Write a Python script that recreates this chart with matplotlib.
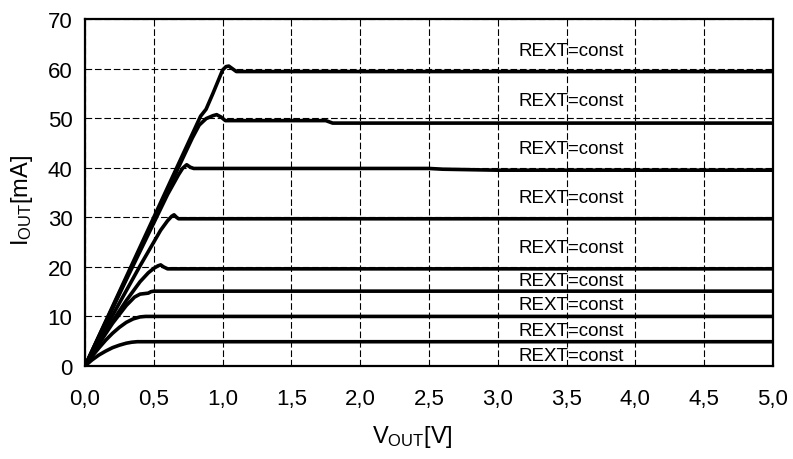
import matplotlib
matplotlib.use('Agg')
import matplotlib.pyplot as plt

# Output characteristic curves
v_05 = [0, 0.05, 0.10, 0.15, 0.20, 0.25, 0.30, 0.34, 0.38, 5.0]
i_05 = [0, 1.2, 2.2, 3.0, 3.7, 4.2, 4.6, 4.8, 4.9, 4.9]

v_10 = [0, 0.05, 0.10, 0.15, 0.20, 0.25, 0.30, 0.35, 0.40, 0.44, 5.0]
i_10 = [0, 1.9, 3.6, 5.2, 6.6, 7.8, 8.8, 9.5, 9.9, 10.0, 10.0]

v_15 = [0, 0.10, 0.20, 0.30, 0.36, 0.40, 0.46, 0.48, 0.50, 5.0]
i_15 = [0, 4.4, 8.6, 12.2, 13.9, 14.5, 14.7, 15.0, 15.1, 15.1]

v_20 = [0, 0.10, 0.20, 0.30, 0.40, 0.46, 0.50, 0.53, 0.55, 0.57, 0.60, 5.0]
i_20 = [0, 4.6, 9.0, 13.2, 17.0, 18.8, 19.7, 20.2, 20.4, 20.0, 19.6, 19.6]

v_30 = [0, 0.20, 0.40, 0.55, 0.60, 0.63, 0.647, 0.665, 0.68, 5.0]
i_30 = [0, 10.2, 20.2, 27.4, 29.3, 30.2, 30.5, 30.0, 29.7, 29.7]

v_40 = [0, 0.30, 0.60, 0.68, 0.71, 0.739, 0.765, 0.79, 2.50, 2.60, 3.00, 5.0]
i_40 = [0, 17.4, 34.6, 38.6, 39.9, 40.6, 40.1, 39.85, 39.85, 39.7, 39.5, 39.5]

v_50 = [0, 0.40, 0.78, 0.83, 0.88, 0.93, 0.957, 0.99, 1.02, 1.75, 1.80, 5.0]
i_50 = [0, 23.6, 46.0, 48.6, 49.9, 50.5, 50.7, 50.2, 49.5, 49.5, 49.0, 49.0]

v_60 = [0, 0.40, 0.84, 0.88, 0.93, 1.00, 1.025, 1.045, 1.07, 1.10, 5.0]
i_60 = [0, 24.0, 50.4, 51.8, 55.0, 59.7, 60.4, 60.5, 60.0, 59.4, 59.4]

curves = [(v_05, i_05), (v_10, i_10), (v_15, i_15), (v_20, i_20),
          (v_30, i_30), (v_40, i_40), (v_50, i_50), (v_60, i_60)]

label_text = 'REXT=const'
label_y = [63.6, 53.5, 43.8, 34.0, 23.9, 17.2, 12.4, 7.1, 2.2]

x_ticks = [0, 0.5, 1.0, 1.5, 2.0, 2.5, 3.0, 3.5, 4.0, 4.5, 5.0]
x_ticklabels = ['0,0', '0,5', '1,0', '1,5', '2,0', '2,5', '3,0', '3,5', '4,0', '4,5', '5,0']
y_ticks = [0, 10, 20, 30, 40, 50, 60, 70]

plt.rcParams['font.family'] = ['Liberation Sans', 'DejaVu Sans']
plt.rcParams['mathtext.fontset'] = 'custom'
plt.rcParams['mathtext.rm'] = 'Liberation Sans'

fig = plt.figure(figsize=(7.93, 4.60), dpi=100)
ax = fig.add_axes([85 / 793, 93 / 460, 688 / 793, 347 / 460])

# curves
for v, i in curves:
    ax.plot(v, i, color='black', linewidth=2.6, solid_joinstyle='round',
            solid_capstyle='round', zorder=5)

# one label above each curve
for y in label_y:
    ax.text(3.15, y, label_text, fontsize=13.5, ha='left', va='center',
            color='black', zorder=6)

ax.set_xlim(0, 5)
ax.set_ylim(0, 70)
ax.set_xticks(x_ticks)
ax.set_xticklabels(x_ticklabels, fontsize=16)
ax.set_yticks(y_ticks)
ax.set_yticklabels([str(t) for t in y_ticks], fontsize=16)
ax.tick_params(axis='both', length=0)
ax.tick_params(axis='x', pad=16)
ax.tick_params(axis='y', pad=9)

ax.grid(True, color='black', linestyle=(0, (6, 2.5)), linewidth=0.8)
ax.set_axisbelow(True)
for s in ax.spines.values():
    s.set_linewidth(1.6)

fig.text(412 / 793, 1 - 437 / 460, r'$\mathrm{V_{OUT}}$[V]', fontsize=17,
         ha='center', va='center')
fig.text(22 / 793, 1 - 200 / 460, r'$\mathrm{I_{OUT}}$[mA]', fontsize=17,
         ha='center', va='center', rotation=90)

fig.savefig('out.png', dpi=100)
